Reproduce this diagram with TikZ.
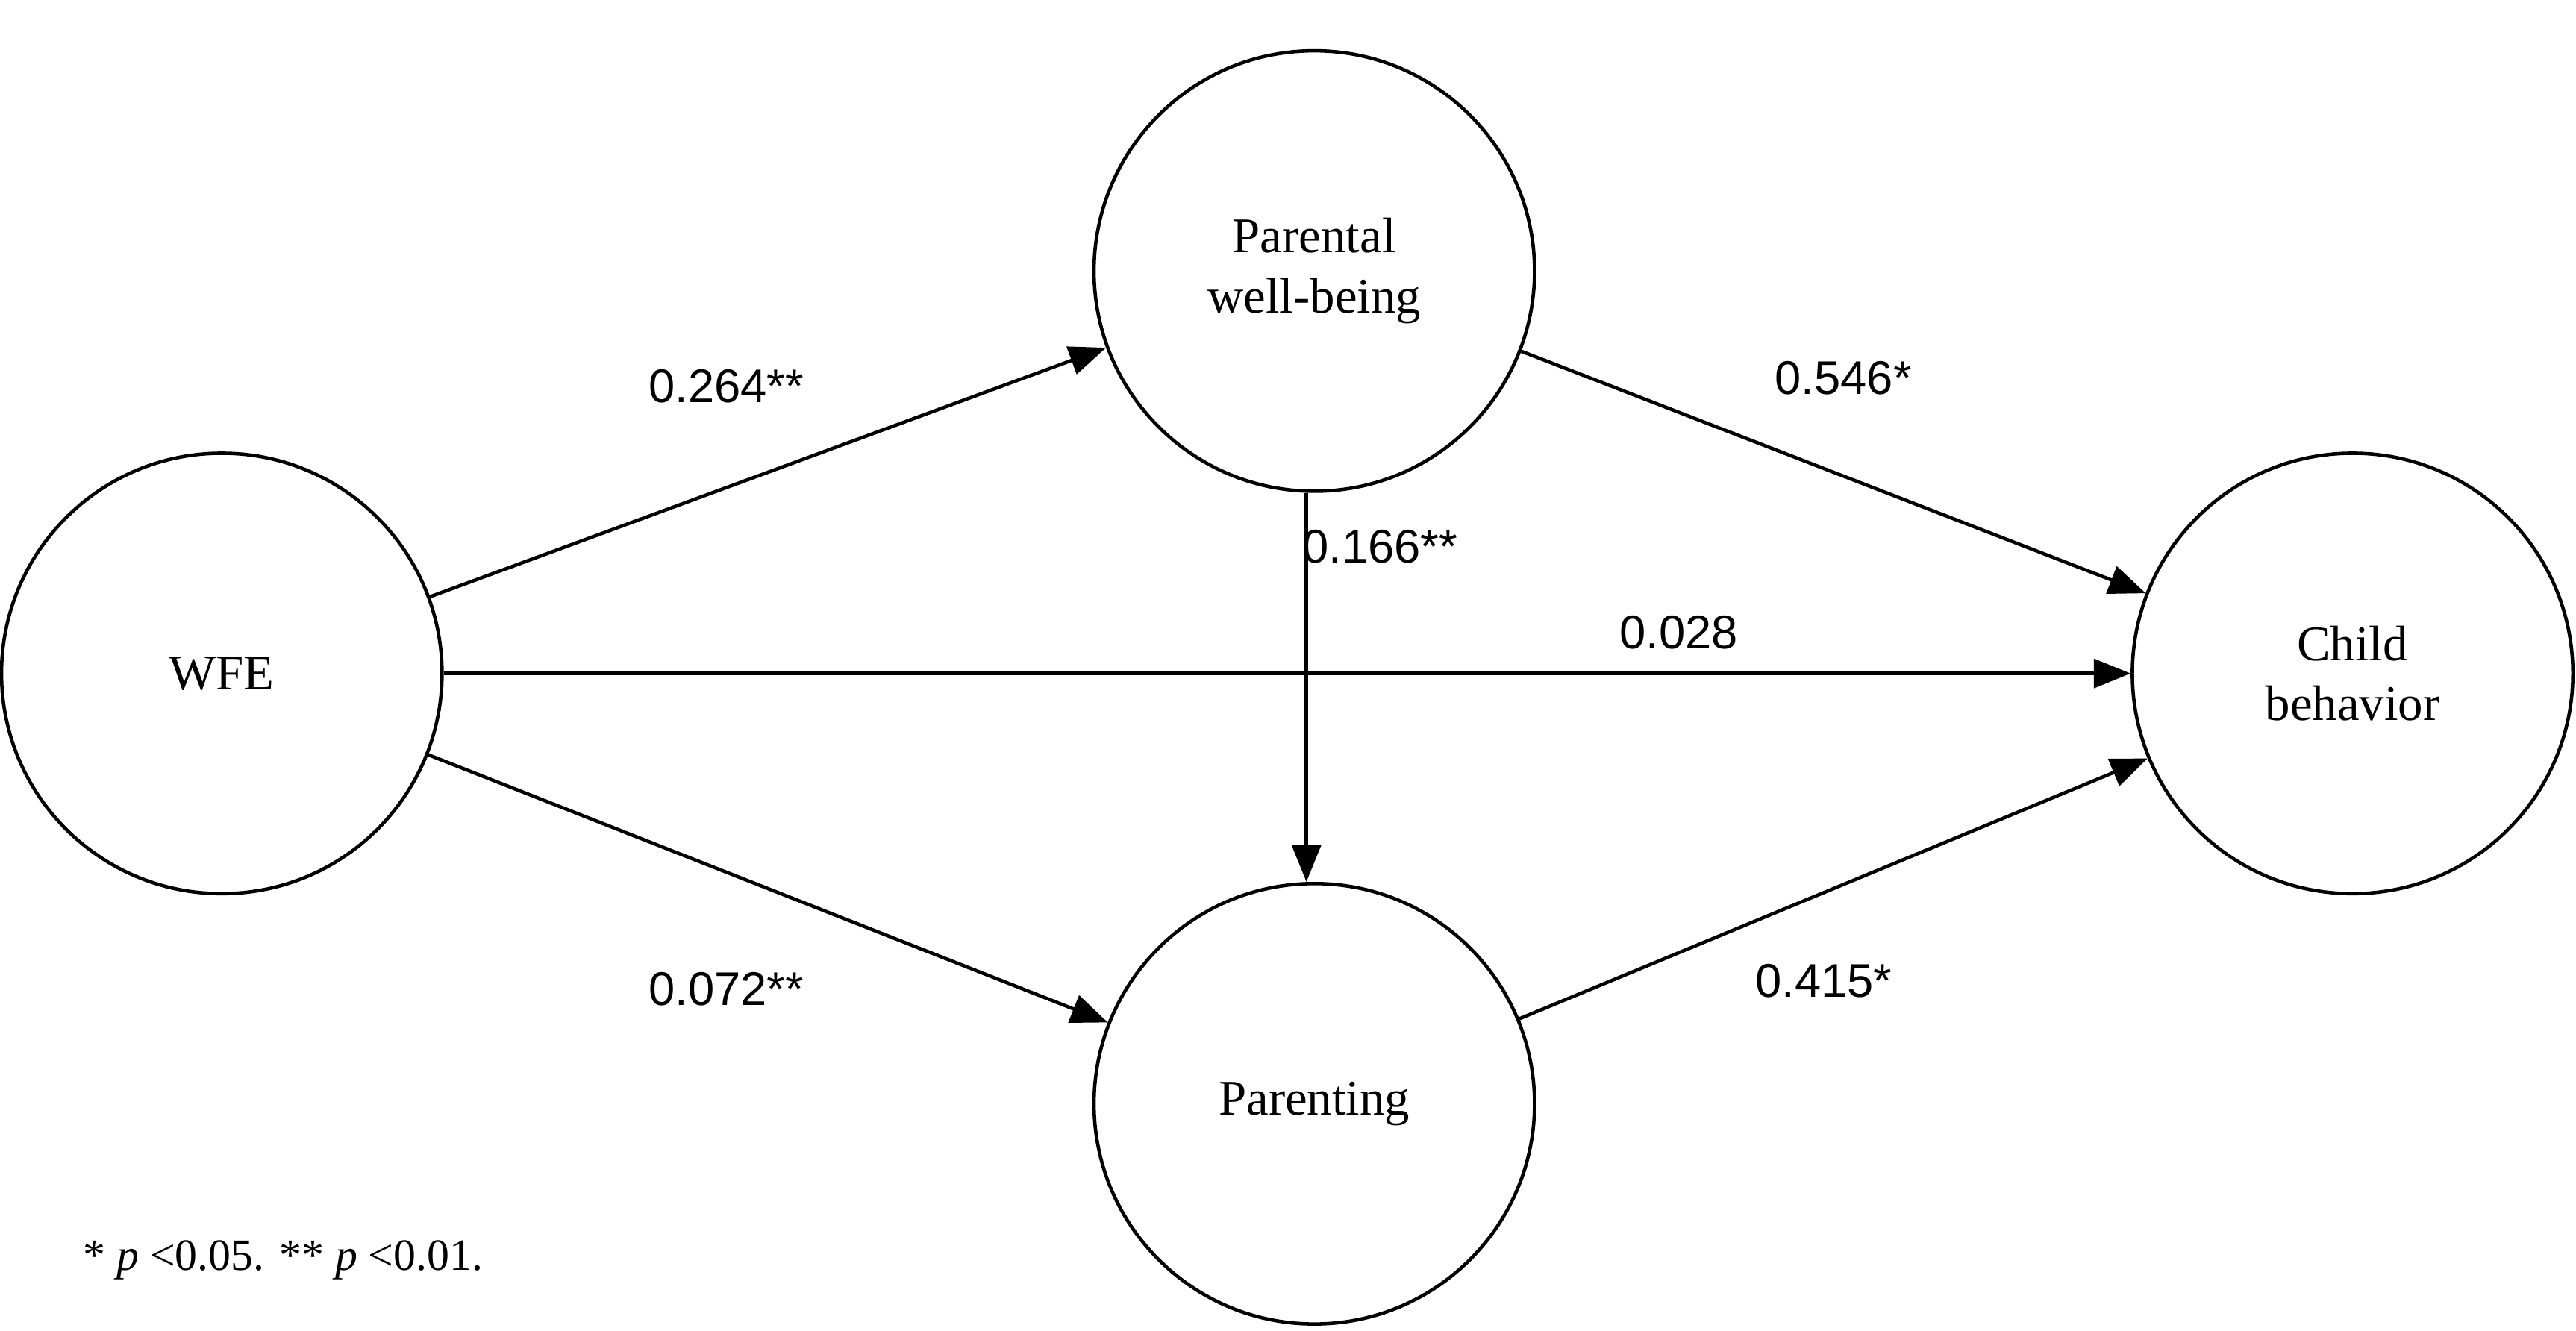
\documentclass[tikz,border=0pt]{standalone}
\usepackage{fontspec}
\setmainfont{Liberation Serif}
\newfontfamily\numfont{Liberation Sans}
\usetikzlibrary{arrows.meta}
\tikzset{
  var/.style={circle, draw, line width=1.3pt, minimum size=5.9cm, align=center, font=\fontsize{19}{23}\selectfont},
  path/.style={-{Triangle[length=14pt,width=11pt]}, line width=1.3pt},
  coef/.style={font=\numfont\fontsize{18}{22}\selectfont}
}
\begin{document}
\begin{tikzpicture}[x=0.022cm, y=-0.022cm]
\useasboundingbox (0,0) rectangle (1568,810);
%%% nodes %%%
\node[var] (wfe) at (135,410) {WFE};
\node[var] (pwb) at (800,165) {Parental\\well-being};
\node[var] (par) at (800,672) {Parenting};
\node[var] (cb) at (1432,410) {Child\\behavior};
%%% paths %%%
\draw[path] (wfe) -- (pwb);
\draw[path] (wfe) -- (par);
\draw[path] (wfe.east) -- (cb.west);
\draw[path] (pwb) -- (cb);
\draw[path] (par) -- (cb);
\draw[path] ([xshift=-3pt]pwb.south) -- ([xshift=-3pt]par.north);
%%% coefficients %%%
\node[coef] (c1) at (442,235) {0.264**};
\node[coef] (c2) at (1122,230) {0.546*};
\node[coef] (c3) at (840,333) {0.166**};
\node[coef] (c4) at (1022,385) {0.028};
\node[coef] (c5) at (442,602) {0.072**};
\node[coef] (c6) at (1110,597) {0.415*};
%%% note %%%
\node[anchor=west, font=\fontsize{17}{20}\selectfont] (note) at (45,767) {* \textit{p} <0.05. ** \textit{p} <0.01.};
\end{tikzpicture}
\end{document}
